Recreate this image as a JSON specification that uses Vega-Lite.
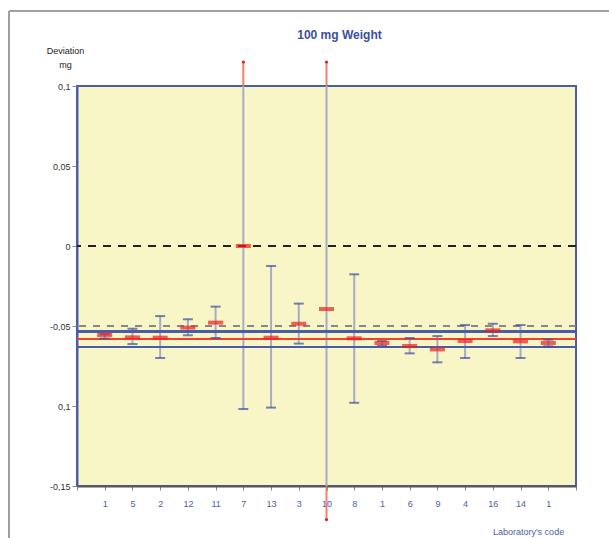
{
  "$schema": "https://vega.github.io/schema/vega-lite/v6.json",
  "width": 499,
  "height": 400,
  "autosize": {"type": "none"},
  "padding": {"left": 77, "top": 86, "right": 33, "bottom": 52},
  "background": "white",
  "title": {"text": "100 mg Weight", "font": "Liberation Sans", "fontSize": 12, "fontWeight": "bold", "color": "#3c4fa0", "anchor": "middle", "dx": 13, "dy": 34, "offset": 2},
  "config": {
    "view": {"fill": "#f8f6c6", "stroke": "#4a5ea8", "strokeWidth": 2},
    "font": "Liberation Sans",
    "axis": {"labelOverlap": false}
  },
  "data": {"values": [
    {"i": 1, "lab": "1", "mean": -0.0556, "lo": -0.0578, "hi": -0.0552},
    {"i": 2, "lab": "5", "mean": -0.0571, "lo": -0.0613, "hi": -0.0517},
    {"i": 3, "lab": "2", "mean": -0.0573, "lo": -0.07, "hi": -0.0438},
    {"i": 4, "lab": "12", "mean": -0.051, "lo": -0.0558, "hi": -0.0458},
    {"i": 5, "lab": "11", "mean": -0.0479, "lo": -0.0575, "hi": -0.0379},
    {"i": 6, "lab": "7", "mean": 0.0, "lo": -0.1019, "hi": 0.115},
    {"i": 7, "lab": "13", "mean": -0.0573, "lo": -0.101, "hi": -0.0125},
    {"i": 8, "lab": "3", "mean": -0.0486, "lo": -0.061, "hi": -0.036},
    {"i": 9, "lab": "10", "mean": -0.0394, "lo": -0.171, "hi": 0.115},
    {"i": 10, "lab": "8", "mean": -0.0577, "lo": -0.098, "hi": -0.0177},
    {"i": 11, "lab": "1", "mean": -0.0606, "lo": -0.0623, "hi": -0.0594},
    {"i": 12, "lab": "6", "mean": -0.0625, "lo": -0.0671, "hi": -0.0575},
    {"i": 13, "lab": "9", "mean": -0.0646, "lo": -0.0727, "hi": -0.0563},
    {"i": 14, "lab": "4", "mean": -0.0594, "lo": -0.07, "hi": -0.0494},
    {"i": 15, "lab": "16", "mean": -0.0527, "lo": -0.0563, "hi": -0.0486},
    {"i": 16, "lab": "14", "mean": -0.0596, "lo": -0.07, "hi": -0.0494},
    {"i": 17, "lab": "1", "mean": -0.0606, "lo": -0.0627, "hi": -0.0585}
  ]},
  "layer": [
    {
      "mark": {"type": "rule", "clip": true, "color": "#a8abc6", "strokeWidth": 2},
      "encoding": {
        "x": {"field": "i", "type": "quantitative",
              "scale": {"domain": [0, 18], "nice": false, "zero": false},
              "axis": {"title": "Laboratory's code", "values": [0,1,2,3,4,5,6,7,8,9,10,11,12,13,14,15,16,17,18], "tickCount": 40,
                       "labelExpr": "['','1','5','2','12','11','7','13','3','10','8','1','6','9','4','16','14','1',''][round(datum.value)]",
                       "labelOverlap": false, "labelFlush": false,
                       "grid": false, "domainColor": "#555", "domainWidth": 2, "tickColor": "#888", "tickSize": 4,
                       "labelColor": "#4a5ea8", "labelFontSize": 9, "labelPadding": 9, "labelFont": "Liberation Sans",
                       "titleColor": "#4a5ea8", "titleFontSize": 9, "titleFontWeight": "normal", "titleFont": "Liberation Sans",
                       "titleX": 451, "titleY": 48, "titleAlign": "center", "titleBaseline": "alphabetic"}},
        "y": {"field": "lo", "type": "quantitative",
              "scale": {"domain": [-0.15, 0.1], "nice": false, "zero": false},
              "axis": {"title": ["Deviation", "mg"], "values": [-0.15, -0.1, -0.05, 0, 0.05, 0.1], "tickCount": 20,
                       "labelExpr": "datum.value > 0.07 ? '0,1' : datum.value > 0.02 ? '0,05' : datum.value > -0.02 ? '0' : datum.value > -0.07 ? '-0,05' : datum.value > -0.12 ? '0,1' : '-0,15'",
                       "labelOverlap": false,
                       "grid": false, "domainColor": "#4a5ea8", "domainWidth": 2, "tickColor": "#888", "tickSize": 5,
                       "labelColor": "#333", "labelFontSize": 9, "labelPadding": 2, "labelFont": "Liberation Sans",
                       "titleColor": "#222", "titleFontSize": 9, "titleFontWeight": "normal", "titleFont": "Liberation Sans",
                       "titleAngle": 0, "titleX": -12, "titleY": -33, "titleAlign": "center", "titleBaseline": "alphabetic", "titleLineHeight": 14}},
        "y2": {"field": "hi"}
      }
    },
    {
      "mark": {"type": "rule", "color": "#222", "strokeWidth": 2, "strokeDash": [8, 7]},
      "encoding": {"y": {"datum": 0, "type": "quantitative"}}
    },
    {
      "mark": {"type": "rule", "color": "#888", "strokeWidth": 1.5, "strokeDash": [7, 7]},
      "encoding": {"y": {"datum": -0.05, "type": "quantitative"}}
    },
    {
      "mark": {"type": "rule", "color": "#4a5ea8", "strokeWidth": 1.5},
      "encoding": {"y": {"datum": -0.0535, "type": "quantitative"}}
    },
    {
      "mark": {"type": "rule", "color": "#4a5ea8", "strokeWidth": 1.5},
      "encoding": {"y": {"datum": -0.0631, "type": "quantitative"}}
    },
    {
      "mark": {"type": "rule", "color": "#f04030", "strokeWidth": 1.5},
      "encoding": {"y": {"datum": -0.0583, "type": "quantitative"}}
    },
    {
      "transform": [{"filter": "datum.hi > 0.1"}],
      "mark": {"type": "rule", "clip": false, "color": "#f26a50", "strokeWidth": 2, "opacity": 0.85},
      "encoding": {"x": {"field": "i", "type": "quantitative"}, "y": {"field": "hi", "type": "quantitative"}, "y2": {"datum": 0.1}}
    },
    {
      "transform": [{"filter": "datum.lo < -0.15"}],
      "mark": {"type": "rule", "clip": false, "color": "#f26a50", "strokeWidth": 2, "opacity": 0.85},
      "encoding": {"x": {"field": "i", "type": "quantitative"}, "y": {"field": "lo", "type": "quantitative"}, "y2": {"datum": -0.15}}
    },
    {
      "transform": [{"filter": "datum.hi > 0.1"}],
      "mark": {"type": "point", "clip": false, "filled": true, "color": "#e02020", "size": 10, "opacity": 1},
      "encoding": {"x": {"field": "i", "type": "quantitative"}, "y": {"field": "hi", "type": "quantitative"}}
    },
    {
      "transform": [{"filter": "datum.lo < -0.15"}],
      "mark": {"type": "point", "clip": false, "filled": true, "color": "#e02020", "size": 10, "opacity": 1},
      "encoding": {"x": {"field": "i", "type": "quantitative"}, "y": {"field": "lo", "type": "quantitative"}}
    },
    {
      "transform": [{"filter": "datum.lo >= -0.15"}],
      "mark": {"type": "tick", "orient": "horizontal", "color": "#3a4ea0", "size": 10, "thickness": 2},
      "encoding": {"x": {"field": "i", "type": "quantitative"}, "y": {"field": "lo", "type": "quantitative"}}
    },
    {
      "transform": [{"filter": "datum.hi <= 0.1"}],
      "mark": {"type": "tick", "orient": "horizontal", "color": "#3a4ea0", "size": 10, "thickness": 2},
      "encoding": {"x": {"field": "i", "type": "quantitative"}, "y": {"field": "hi", "type": "quantitative"}}
    },
    {
      "mark": {"type": "tick", "orient": "horizontal", "color": "#f01c1c", "size": 15, "thickness": 4},
      "encoding": {"x": {"field": "i", "type": "quantitative"}, "y": {"field": "mean", "type": "quantitative"}}
    },
    {
      "mark": {"type": "rule", "clip": false, "color": "#a0a0a0", "strokeWidth": 1.5},
      "encoding": {"x": {"datum": -2.45, "type": "quantitative"}, "y": {"datum": 0.1469, "type": "quantitative"}, "y2": {"datum": -0.2}}
    },
    {
      "mark": {"type": "rule", "clip": false, "color": "#a0a0a0", "strokeWidth": 1.5},
      "encoding": {"y": {"datum": 0.1469, "type": "quantitative"}, "x": {"datum": -2.45, "type": "quantitative"}, "x2": {"datum": 20}}
    }
  ]
}
